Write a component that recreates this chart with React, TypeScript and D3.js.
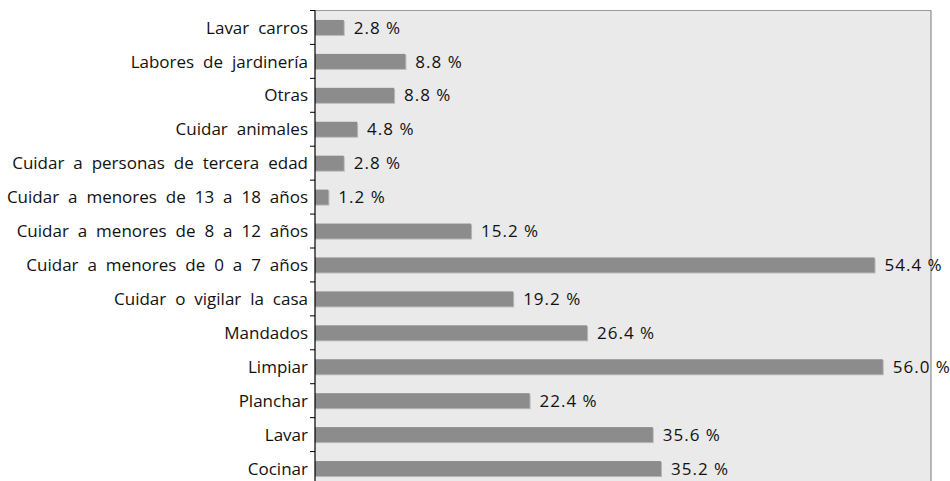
import React, { useEffect, useRef } from 'react';
import * as d3 from 'd3';

// Categories, top to bottom as drawn
const categories = [
    'Lavar carros',
    'Labores de jardinería',
    'Otras',
    'Cuidar animales',
    'Cuidar a personas de tercera edad',
    'Cuidar a menores de 13 a 18 años',
    'Cuidar a menores de 8 a 12 años',
    'Cuidar a menores de 0 a 7 años',
    'Cuidar o vigilar la casa',
    'Mandados',
    'Limpiar',
    'Planchar',
    'Lavar',
    'Cocinar'
];

// Bar lengths as drawn (percent)
const barValues = [2.8, 8.8, 7.7, 4.1, 2.8, 1.3, 15.2, 54.5, 19.3, 26.5, 55.3, 20.9, 32.9, 33.7];

// Printed value labels (percent)
const labelValues = [2.8, 8.8, 8.8, 4.8, 2.8, 1.2, 15.2, 54.4, 19.2, 26.4, 56.0, 22.4, 35.6, 35.2];

const xDomain = [0, 60];

const App: React.FC = () => {
    const svgRef = useRef<SVGSVGElement>(null);

    useEffect(() => {
        if (!svgRef.current) return;
        const width = 950;
        const height = 481;
        const svg = d3.select(svgRef.current);
        svg.selectAll('*').remove();
        svg.attr('width', width).attr('height', height)
            .style('font-family', '"Open Sans", sans-serif');

        const left = 315, right = 931, top = 10.5, bottom = 485.5;

        const x = d3.scaleLinear().domain(xDomain).range([left, right]);
        const y = d3.scaleBand<string>()
            .domain(categories)
            .range([top, bottom])
            .paddingInner(0.558)
            .paddingOuter(0.279);

        // plot background
        svg.append('rect')
            .attr('x', left).attr('y', top)
            .attr('width', right - left).attr('height', bottom - top)
            .attr('fill', '#eaeaea');

        // border top / right
        svg.append('line')
            .attr('x1', left).attr('x2', right)
            .attr('y1', top).attr('y2', top)
            .attr('stroke', '#9a9a9a').attr('stroke-width', 1);
        svg.append('line')
            .attr('x1', right).attr('x2', right)
            .attr('y1', top).attr('y2', bottom)
            .attr('stroke', '#7a7a7a').attr('stroke-width', 1);

        const data = categories.map((c, i) => ({ c, v: barValues[i], l: labelValues[i] }));

        // bar shadow
        svg.selectAll('.shadow')
            .data(data)
            .enter()
            .append('rect')
            .attr('x', left)
            .attr('y', d => (y(d.c) as number) + 1)
            .attr('width', d => x(d.v) - left + 1)
            .attr('height', y.bandwidth())
            .attr('fill', '#b8b8b8');

        svg.selectAll('.bar')
            .data(data)
            .enter()
            .append('rect')
            .attr('x', left)
            .attr('y', d => y(d.c) as number)
            .attr('width', d => x(d.v) - left)
            .attr('height', y.bandwidth())
            .attr('fill', '#8c8c8c');

        // value labels
        svg.selectAll('.val')
            .data(data)
            .enter()
            .append('text')
            .attr('x', d => x(d.v) + 10)
            .attr('y', d => (y(d.c) as number) + y.bandwidth() / 2)
            .attr('dy', '0.36em')
            .attr('font-size', '17px')
            .attr('letter-spacing', '1px')
            .attr('fill', '#111')
            .text(d => `${d.l.toFixed(1)} %`);

        // left axis
        const step = y.step();
        svg.append('line')
            .attr('x1', left).attr('x2', left)
            .attr('y1', top).attr('y2', bottom)
            .attr('stroke', '#000').attr('stroke-width', 1.2);
        svg.selectAll('.tick')
            .data(d3.range(categories.length + 1))
            .enter()
            .append('line')
            .attr('x1', left - 5).attr('x2', left)
            .attr('y1', i => top + i * step)
            .attr('y2', i => top + i * step)
            .attr('stroke', '#000').attr('stroke-width', 1);

        // category labels
        svg.selectAll('.cat')
            .data(categories)
            .enter()
            .append('text')
            .attr('x', left - 7)
            .attr('y', d => (y(d) as number) + y.bandwidth() / 2)
            .attr('dy', '0.36em')
            .attr('text-anchor', 'end')
            .attr('font-size', '17px')
            .attr('word-spacing', '4.5px')
            .attr('fill', '#111')
            .text(d => d);
    }, []);

    return (
        <div style={{ position: 'absolute', left: 0, top: 0 }}>
            <svg ref={svgRef}></svg>
        </div>
    );
};

export default App;
